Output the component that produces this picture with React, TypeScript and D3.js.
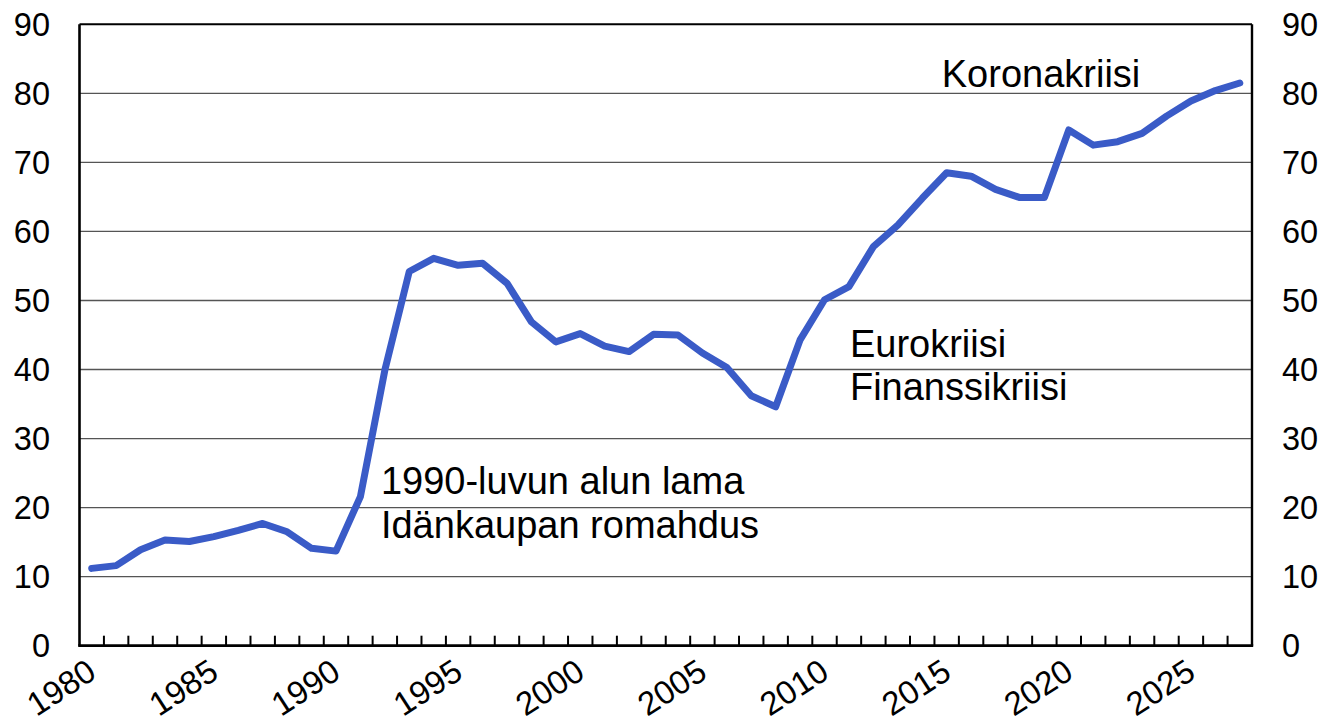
import React, { useEffect, useRef } from 'react';
import { select, scaleBand, scaleLinear, line, range } from 'd3';

// years on the category axis
const years: number[] = range(1980, 2028);

// series values, one per year
const values: number[] = [
  11.2, 11.6, 13.9, 15.3, 15.1, 15.8, 16.7, 17.7, 16.5, 14.1,
  13.7, 21.6, 39.9, 54.2, 56.1, 55.1, 55.4, 52.5, 46.9, 44.0,
  45.2, 43.4, 42.6, 45.1, 45.0, 42.4, 40.3, 36.2, 34.6, 44.3,
  50.1, 52.0, 57.8, 60.9, 64.8, 68.5, 68.0, 66.1, 64.9, 64.9,
  74.7, 72.5, 73.0, 74.2, 76.7, 78.9, 80.4, 81.5,
];

const yTicks: number[] = [0, 10, 20, 30, 40, 50, 60, 70, 80, 90];
const xLabelYears: number[] = [1980, 1985, 1990, 1995, 2000, 2005, 2010, 2015, 2020, 2025];

// annotation texts, anchored in data units (year, value)
const annotations = [
  { lines: ['1990-luvun alun lama', 'Idänkaupan romahdus'], year: 1991.84, value: 21.93 },
  { lines: ['Eurokriisi', 'Finanssikriisi'], year: 2011.04, value: 41.86 },
  { lines: ['Koronakriisi'], year: 2014.8, value: 80.96 },
];

const App: React.FC = () => {
  const svgRef = useRef<SVGSVGElement>(null);

  useEffect(() => {
    if (!svgRef.current) return;
    document.body.style.margin = '0';

    const width = 1322;
    const height = 724;
    const left = 79.5;
    const right = 1252;
    const top = 24.3;
    const bottom = 645.7;
    const font = '"Liberation Sans", Arial, sans-serif';

    const svg = select(svgRef.current)
      .attr('width', width)
      .attr('height', height)
      .html('');

    const x = scaleBand<number>().domain(years).range([left, right]).padding(0);
    const xLin = scaleLinear().domain([1979.5, 2027.5]).range([left, right]);
    const y = scaleLinear().domain([0, 90]).range([bottom, top]);

    // gridlines
    svg.append('g')
      .selectAll('line')
      .data(yTicks.filter(t => t > 0 && t < 90))
      .enter()
      .append('line')
      .attr('x1', left)
      .attr('x2', right)
      .attr('y1', d => y(d))
      .attr('y2', d => y(d))
      .attr('stroke', '#555')
      .attr('stroke-width', 1.3);

    // plot frame: top line, left/right/bottom axes
    svg.append('line')
      .attr('x1', left).attr('x2', right)
      .attr('y1', y(90)).attr('y2', y(90))
      .attr('stroke', '#000').attr('stroke-width', 2);
    svg.append('line')
      .attr('x1', left).attr('x2', left)
      .attr('y1', y(90)).attr('y2', bottom)
      .attr('stroke', '#000').attr('stroke-width', 2.6);
    svg.append('line')
      .attr('x1', right).attr('x2', right)
      .attr('y1', y(90)).attr('y2', bottom)
      .attr('stroke', '#000').attr('stroke-width', 2.4);

    // category tick marks, pointing up into the plot
    svg.append('g')
      .selectAll('line')
      .data(years.slice(1))
      .enter()
      .append('line')
      .attr('x1', d => x(d)!)
      .attr('x2', d => x(d)!)
      .attr('y1', bottom)
      .attr('y2', bottom - 10)
      .attr('stroke', '#000')
      .attr('stroke-width', 2);

    svg.append('line')
      .attr('x1', left - 1.3).attr('x2', right + 1.2)
      .attr('y1', bottom).attr('y2', bottom)
      .attr('stroke', '#000').attr('stroke-width', 2.8);

    // y labels, both sides
    const yl = svg.append('g').attr('font-family', font).attr('font-size', 32.5).attr('fill', '#000');
    yl.selectAll('text.l')
      .data(yTicks)
      .enter()
      .append('text')
      .attr('class', 'l')
      .attr('x', 50)
      .attr('y', d => y(d))
      .attr('dy', '0.36em')
      .attr('text-anchor', 'end')
      .text(d => d);
    yl.selectAll('text.r')
      .data(yTicks)
      .enter()
      .append('text')
      .attr('class', 'r')
      .attr('x', 1282)
      .attr('y', d => y(d))
      .attr('dy', '0.36em')
      .attr('text-anchor', 'start')
      .text(d => d);

    // x labels, rotated
    svg.append('g')
      .selectAll('text')
      .data(xLabelYears)
      .enter()
      .append('text')
      .attr('transform', d => `translate(${x(d)! + x.bandwidth() / 2}, 667) rotate(-33)`)
      .attr('dy', '0.36em')
      .attr('text-anchor', 'end')
      .attr('font-family', font)
      .attr('font-size', 33)
      .attr('fill', '#000')
      .text(d => d);

    // the series
    const path = line<number>()
      .x((_, i) => x(years[i])! + x.bandwidth() / 2)
      .y(d => y(d));
    svg.append('path')
      .datum(values)
      .attr('d', path)
      .attr('fill', 'none')
      .attr('stroke', '#3a5bc7')
      .attr('stroke-width', 7)
      .attr('stroke-linejoin', 'round')
      .attr('stroke-linecap', 'round');

    // annotations
    const ann = svg.append('g').attr('font-family', font).attr('font-size', 38).attr('fill', '#000');
    annotations.forEach(a => {
      const t = ann.append('text')
        .attr('x', xLin(a.year))
        .attr('y', y(a.value));
      a.lines.forEach((ln, i) => {
        t.append('tspan')
          .attr('x', xLin(a.year))
          .attr('dy', i === 0 ? 0 : 43.5)
          .text(ln);
      });
    });
  }, []);

  return <svg ref={svgRef} style={{ display: 'block' }}></svg>;
};

export default App;
